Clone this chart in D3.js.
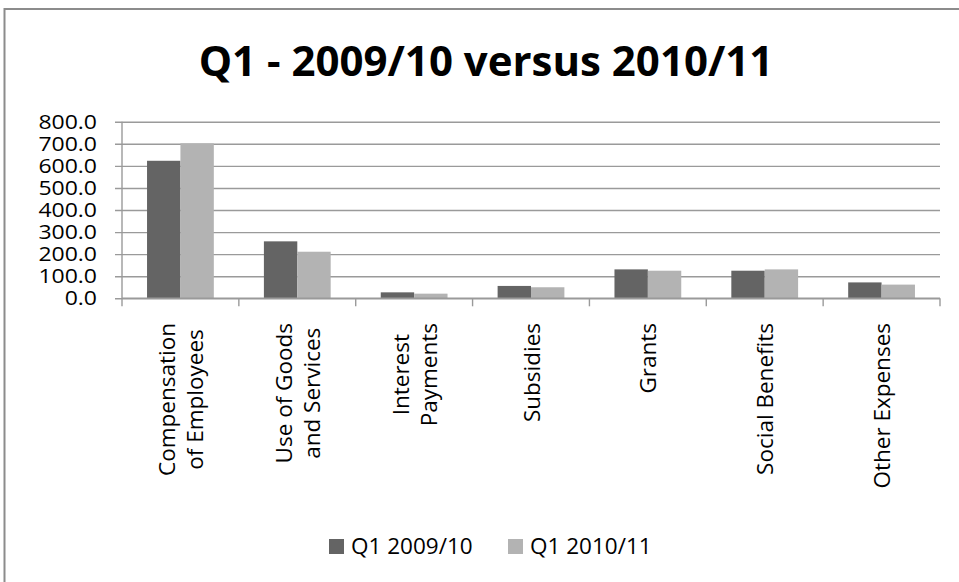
<!DOCTYPE html>
<html>
<head>
<meta charset="utf-8">
<script src="https://cdn.jsdelivr.net/npm/d3@7"></script>
<style>
  html, body { margin: 0; padding: 0; background: #fff; }
  svg { display: block; }
  text { font-family: "Open Sans", "Noto Sans", sans-serif; fill: #000; }
</style>
</head>
<body>
<svg id="chart" width="959" height="582"></svg>
<script>
// Expenditure categories (each entry is a list of wrapped label lines)
const categories = [
  ["Compensation", "of Employees"],
  ["Use of Goods", "and Services"],
  ["Interest", "Payments"],
  ["Subsidies"],
  ["Grants"],
  ["Social Benefits"],
  ["Other Expenses"]
];
const seriesNames = ["Q1 2009/10", "Q1 2010/11"];
const q1_2009_10 = [623, 258, 27, 56, 131, 125, 72];
const q1_2010_11 = [702, 211, 21, 50, 125, 131, 62];
const yTicks = [0, 100, 200, 300, 400, 500, 600, 700, 800];
const seriesColors = ["#646464", "#b3b3b3"];

const svg = d3.select("#chart");

// chart frame
svg.append("rect")
  .attr("x", 4.5).attr("y", 9)
  .attr("width", 1000).attr("height", 1000)
  .attr("fill", "#fff")
  .attr("stroke", "#8c8c8c")
  .attr("stroke-width", 2);

// title
svg.append("text")
  .attr("x", 486).attr("y", 76)
  .attr("text-anchor", "middle")
  .attr("font-size", 42)
  .attr("font-weight", "bold")
  .text("Q1 - 2009/10 versus 2010/11");

const plot = { left: 122, right: 940, top: 121.7, bottom: 298.3 };

const x = d3.scaleBand()
  .domain(d3.range(categories.length))
  .range([plot.left, plot.right])
  .padding(0);

const y = d3.scaleLinear()
  .domain([0, 800])
  .range([plot.bottom, plot.top]);

// gap width of 150% between category groups
const groupW = x.bandwidth() * 2 / 3.5;
const inner = d3.scaleBand()
  .domain(d3.range(seriesNames.length))
  .range([0, groupW])
  .padding(0);
const groupOffset = (x.bandwidth() - groupW) / 2;

// horizontal gridlines with outside tick marks
const yAxis = d3.axisLeft(y)
  .tickValues(yTicks)
  .tickSize(-(plot.right - plot.left))
  .tickSizeOuter(0)
  .tickFormat(d3.format(".1f"));

const tickStretch = 1.18;
const gy = svg.append("g")
  .attr("transform", `translate(${plot.left},0)`)
  .call(yAxis);
gy.select(".domain").remove();
gy.selectAll(".tick line")
  .attr("x1", -7)
  .attr("stroke", "#9a9a9a")
  .attr("stroke-width", 1.4);
gy.selectAll(".tick text")
  .attr("x", -25 / tickStretch)
  .attr("dy", "0.33em")
  .attr("transform", `scale(${tickStretch},1)`)
  .attr("font-size", 19.5)
  .attr("fill", "#000");

// vertical axis line
svg.append("line")
  .attr("x1", plot.left).attr("x2", plot.left)
  .attr("y1", plot.top).attr("y2", plot.bottom)
  .attr("stroke", "#9a9a9a").attr("stroke-width", 1.4);

// bars
const series = [q1_2009_10, q1_2010_11];
series.forEach((vals, si) => {
  svg.append("g").selectAll("rect")
    .data(vals)
    .join("rect")
    .attr("x", (d, i) => x(i) + groupOffset + inner(si))
    .attr("width", inner.bandwidth())
    .attr("y", d => y(d))
    .attr("height", d => y(0) - y(d))
    .attr("fill", seriesColors[si]);
});

// category axis with tick marks between groups
const catBounds = d3.range(categories.length + 1).map(i => plot.left + i * x.step());
const gx = svg.append("g");
gx.append("line")
  .attr("x1", plot.left).attr("x2", plot.right)
  .attr("y1", plot.bottom).attr("y2", plot.bottom)
  .attr("stroke", "#9a9a9a").attr("stroke-width", 1.4);
gx.selectAll("line.tick")
  .data(catBounds)
  .join("line")
  .attr("class", "tick")
  .attr("x1", d => d).attr("x2", d => d)
  .attr("y1", plot.bottom).attr("y2", plot.bottom + 8)
  .attr("stroke", "#9a9a9a").attr("stroke-width", 1.4);

// rotated category labels
const labelTop = 323;
const lineGap = 28;
categories.forEach((lines, i) => {
  const cx = x(i) + x.bandwidth() / 2;
  const g = svg.append("g");
  const texts = lines.map((ln, j) => g.append("text")
    .attr("font-size", 22.5)
    .attr("text-anchor", "middle")
    .text(ln));
  const maxLen = d3.max(texts, t => t.node().getComputedTextLength());
  const midY = labelTop + maxLen / 2;
  texts.forEach((t, j) => {
    const bx = cx + 8.5 + (j - (lines.length - 1) / 2) * lineGap;
    t.attr("transform", `translate(${bx},${midY}) rotate(-90)`);
  });
});

// legend
const legend = svg.append("g");
const legendItems = [
  { name: seriesNames[0], color: seriesColors[0], sx: 329 },
  { name: seriesNames[1], color: seriesColors[1], sx: 508 }
];
legendItems.forEach(it => {
  legend.append("rect")
    .attr("x", it.sx).attr("y", 539)
    .attr("width", 15).attr("height", 15)
    .attr("fill", it.color);
  legend.append("text")
    .attr("x", it.sx + 22).attr("y", 554)
    .attr("font-size", 22.5)
    .text(it.name);
});
</script>
</body>
</html>
